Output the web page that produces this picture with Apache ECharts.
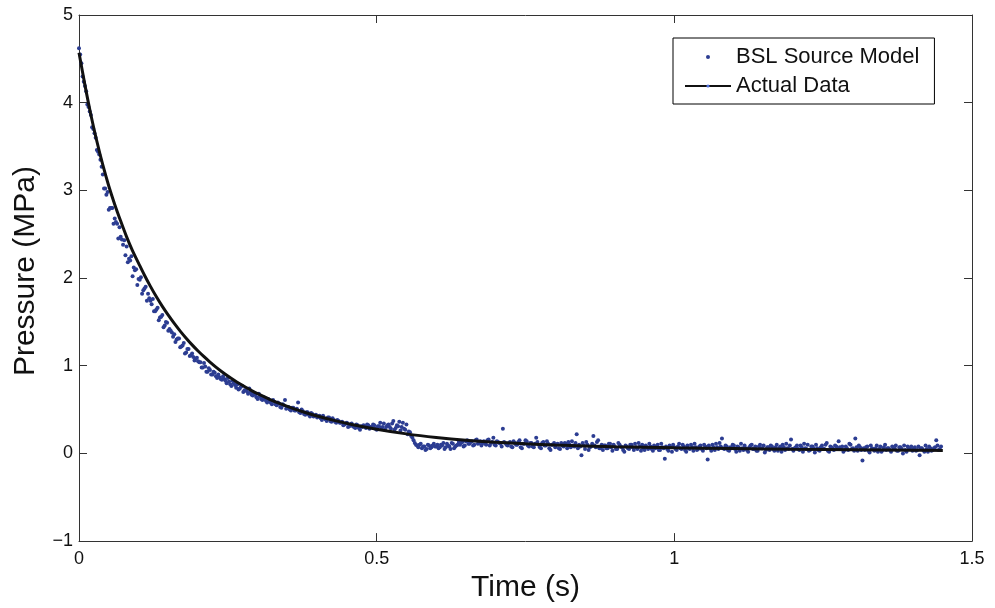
<!DOCTYPE html>
<html>
<head>
<meta charset="utf-8">
<script src="https://cdn.jsdelivr.net/npm/echarts@6/dist/echarts.min.js"></script>
<style>
html,body{margin:0;padding:0;background:#fff;}
#chart{width:995px;height:608px;}
</style>
</head>
<body>
<div id="chart"></div>
<script>
// ---- Data ----
const xAxisTitle = 'Time (s)';
const yAxisTitle = 'Pressure (MPa)';
const modelName = 'BSL Source Model';
const actualName = 'Actual Data';

// "Actual Data" curve: time (s) and pressure (MPa)
const actualTime = [0, 0.01, 0.02, 0.03, 0.04, 0.05, 0.06, 0.07, 0.08, 0.09, 0.10, 0.11, 0.12, 0.13, 0.14, 0.15, 0.16, 0.17, 0.18, 0.19, 0.20, 0.21, 0.22, 0.23, 0.24, 0.25, 0.26, 0.27, 0.28, 0.29, 0.30, 0.32, 0.34, 0.36, 0.38, 0.40, 0.43, 0.46, 0.50, 0.55, 0.60, 0.65, 0.70, 0.75, 0.80, 0.90, 1.00, 1.10, 1.20, 1.30, 1.40, 1.451];
const actualPressure = [4.57, 4.20, 3.86, 3.56, 3.29, 3.05, 2.84, 2.65, 2.47, 2.31, 2.17, 2.032, 1.905, 1.786, 1.677, 1.576, 1.482, 1.395, 1.314, 1.238, 1.168, 1.103, 1.042, 0.985, 0.932, 0.883, 0.837, 0.794, 0.754, 0.716, 0.681, 0.617, 0.561, 0.511, 0.467, 0.427, 0.374, 0.328, 0.276, 0.223, 0.182, 0.150, 0.127, 0.109, 0.096, 0.077, 0.064, 0.055, 0.048, 0.042, 0.036, 0.033];

// "BSL Source Model" samples: set A at t = i*modelStep, set B at t = modelStep/2 + i*modelStep
const modelStep = 0.004;
const modelPressureA = [
  4.62, 4.45, 4.24, 4.13, 3.95, 3.86, 3.70, 3.60, 3.44, 3.35,
  3.18, 3.02, 2.98, 2.80, 2.80, 2.68, 2.62, 2.58, 2.44, 2.43,
  2.36, 2.22, 2.25, 2.12, 2.10, 1.99, 2.01, 1.86, 1.90, 1.82,
  1.74, 1.76, 1.62, 1.66, 1.55, 1.58, 1.46, 1.49, 1.42, 1.38,
  1.36, 1.30, 1.31, 1.22, 1.26, 1.15, 1.19, 1.12, 1.10, 1.08,
  1.05, 1.04, 0.98, 0.99, 0.93, 0.95, 0.90, 0.92, 0.86, 0.87,
  0.84, 0.85, 0.80, 0.82, 0.77, 0.80, 0.75, 0.73, 0.76, 0.70,
  0.72, 0.68, 0.70, 0.66, 0.67, 0.62, 0.65, 0.61, 0.63, 0.58,
  0.60, 0.56, 0.59, 0.55, 0.57, 0.52, 0.55, 0.51, 0.53, 0.49,
  0.52, 0.49, 0.58, 0.46, 0.48, 0.44, 0.47, 0.42, 0.45, 0.43,
  0.41, 0.43, 0.38, 0.40, 0.37, 0.41, 0.36, 0.38, 0.35, 0.37,
  0.35, 0.32, 0.34, 0.30, 0.33, 0.31, 0.29, 0.32, 0.27, 0.30,
  0.31, 0.33, 0.28, 0.30, 0.32, 0.27, 0.31, 0.29, 0.34, 0.30,
  0.33, 0.28, 0.37, 0.29, 0.31, 0.26, 0.35, 0.27, 0.22, 0.24,
  0.18, 0.12, 0.09, 0.10, 0.06, 0.08, 0.05, 0.09, 0.07, 0.11,
  0.08, 0.06, 0.10, 0.12, 0.07, 0.09, 0.05, 0.11, 0.08, 0.10,
  0.10, 0.13, 0.09, 0.15, 0.11, 0.14, 0.10, 0.16, 0.12, 0.09,
  0.14, 0.10, 0.16, 0.12, 0.18, 0.09, 0.13, 0.11, 0.28, 0.12,
  0.09, 0.13, 0.07, 0.12, 0.10, 0.15, 0.06, 0.11, 0.14, 0.08,
  0.12, 0.07, 0.18, 0.10, 0.06, 0.13, 0.09, 0.11, 0.04, 0.10,
  0.07, 0.11, 0.05, 0.09, 0.12, 0.06, 0.10, 0.14, 0.08, 0.22,
  0.10, -0.02, 0.09, 0.13, 0.04, 0.08, 0.20, 0.07, 0.15, 0.06,
  0.04, 0.09, 0.06, 0.11, 0.03, 0.08, 0.05, 0.10, 0.07, 0.02,
  0.08, 0.05, 0.10, 0.04, 0.07, 0.12, 0.03, 0.06, 0.09, 0.05,
  0.08, 0.03, 0.06, 0.10, 0.04, 0.07, -0.06, 0.05, 0.09, 0.02,
  0.07, 0.04, 0.11, 0.05, 0.08, 0.02, 0.06, 0.10, 0.03, 0.07,
  0.05, 0.09, 0.03, 0.08, -0.07, 0.06, 0.10, 0.04, 0.07, 0.12,
  0.17, 0.05, 0.08, 0.03, 0.06, 0.09, 0.02, 0.07, 0.11, 0.04,
  0.06, 0.02, 0.09, 0.05, 0.08, 0.03, 0.10, 0.06, 0.01, 0.07,
  0.04, 0.08, 0.03, 0.10, 0.06, 0.02, 0.07, 0.11, 0.05, 0.16,
  0.03, 0.07, 0.05, 0.09, 0.02, 0.06, 0.10, 0.04, 0.08, 0.01,
  0.06, 0.03, 0.09, 0.05, 0.12, 0.02, 0.07, 0.04, 0.08, 0.14,
  0.05, 0.02, 0.08, 0.04, 0.10, 0.06, 0.17, 0.03, 0.07, -0.08,
  0.04, 0.08, 0.01, 0.06, 0.03, 0.09, 0.05, 0.02, 0.07, 0.04,
  0.06, 0.02, 0.05, 0.09, 0.03, 0.07, 0.00, 0.04, 0.08, 0.05,
  0.03, 0.07, 0.04, -0.02, 0.06, 0.02, 0.05, 0.08, 0.03, 0.06,
  0.15, 0.04, 0.08
];
const modelPressureB = [
  4.55, 4.30, 4.19, 3.98, 3.90, 3.72, 3.65, 3.46, 3.41, 3.27,
  3.02, 2.95, 2.78, 2.80, 2.62, 2.64, 2.45, 2.47, 2.38, 2.26,
  2.18, 2.20, 2.02, 2.09, 1.92, 1.98, 1.82, 1.88, 1.74, 1.77,
  1.70, 1.62, 1.64, 1.52, 1.56, 1.44, 1.50, 1.40, 1.40, 1.33,
  1.27, 1.31, 1.21, 1.23, 1.14, 1.19, 1.11, 1.14, 1.06, 1.09,
  1.04, 0.98, 1.03, 0.93, 0.97, 0.90, 0.93, 0.88, 0.90, 0.85,
  0.88, 0.83, 0.86, 0.79, 0.83, 0.78, 0.79, 0.74, 0.77, 0.72,
  0.71, 0.74, 0.67, 0.69, 0.64, 0.68, 0.62, 0.64, 0.60, 0.62,
  0.58, 0.61, 0.56, 0.58, 0.53, 0.56, 0.61, 0.52, 0.50, 0.52,
  0.49, 0.51, 0.47, 0.50, 0.45, 0.47, 0.44, 0.46, 0.42, 0.44,
  0.42, 0.40, 0.43, 0.39, 0.41, 0.37, 0.40, 0.36, 0.38, 0.35,
  0.36, 0.33, 0.35, 0.31, 0.34, 0.30, 0.33, 0.29, 0.31, 0.32,
  0.29, 0.32, 0.30, 0.33, 0.28, 0.31, 0.35, 0.30, 0.27, 0.32,
  0.30, 0.34, 0.27, 0.32, 0.36, 0.30, 0.28, 0.33, 0.25, 0.20,
  0.15, 0.10, 0.07, 0.11, 0.08, 0.04, 0.10, 0.06, 0.09, 0.08,
  0.10, 0.07, 0.09, 0.05, 0.11, 0.08, 0.12, 0.06, 0.09, 0.13,
  0.12, 0.08, 0.14, 0.11, 0.13, 0.09, 0.15, 0.11, 0.14, 0.12,
  0.11, 0.15, 0.09, 0.13, 0.10, 0.14, 0.12, 0.08, 0.13, 0.10,
  0.12, 0.08, 0.14, 0.10, 0.13, 0.07, 0.11, 0.15, 0.09, 0.12,
  0.08, 0.11, 0.13, 0.07, 0.12, 0.09, 0.14, 0.06, 0.10, 0.12,
  0.10, 0.06, 0.12, 0.08, 0.11, 0.13, 0.07, 0.09, 0.12, 0.06,
  0.08, 0.12, 0.05, 0.10, 0.07, 0.11, 0.09, 0.13, 0.06, 0.10,
  0.09, 0.06, 0.11, 0.07, 0.10, 0.05, 0.12, 0.08, 0.04, 0.09,
  0.06, 0.10, 0.07, 0.11, 0.05, 0.08, 0.10, 0.04, 0.07, 0.11,
  0.05, 0.09, 0.07, 0.04, 0.11, 0.06, 0.08, 0.03, 0.07, 0.10,
  0.05, 0.08, 0.06, 0.10, 0.04, 0.09, 0.05, 0.07, 0.11, 0.04,
  0.08, 0.05, 0.10, 0.06, 0.09, 0.03, 0.07, 0.11, 0.05, 0.08,
  0.06, 0.09, 0.04, 0.07, 0.10, 0.05, 0.08, 0.03, 0.06, 0.09,
  0.04, 0.07, 0.10, 0.05, 0.03, 0.08, 0.06, 0.09, 0.04, 0.07,
  0.09, 0.05, 0.07, 0.03, 0.08, 0.10, 0.04, 0.06, 0.09, 0.05,
  0.06, 0.09, 0.04, 0.07, 0.11, 0.05, 0.03, 0.08, 0.06, 0.10,
  0.04, 0.07, 0.05, 0.10, 0.03, 0.08, 0.06, 0.09, 0.05, 0.07,
  0.08, 0.04, 0.06, 0.11, 0.05, 0.03, 0.07, 0.09, 0.04, 0.06,
  0.07, 0.03, 0.09, 0.05, 0.06, 0.02, 0.08, 0.04, 0.10, 0.06,
  0.04, 0.08, 0.06, 0.03, 0.07, 0.05, 0.09, 0.02, 0.06, 0.08,
  0.05, 0.03, 0.08, 0.06, 0.04, 0.09, 0.02, 0.06, 0.04, 0.07,
  0.09, 0.05
];

// Axis ranges / ticks
const xMin = 0, xMax = 1.5, xInterval = 0.5;
const yMin = -1, yMax = 5, yInterval = 1;

// ---- Build chart ----
const FONT = 'Liberation Sans, Arial, Helvetica, sans-serif';
const modelData = modelPressureA.map((p, i) => [+(i * modelStep).toFixed(4), p])
  .concat(modelPressureB.map((p, i) => [+(modelStep / 2 + i * modelStep).toFixed(4), p]));
const actualData = actualTime.map((t, i) => [t, actualPressure[i]]);
const fmt = v => String(v).replace('-', '\u2212');

const axisLineStyle = { color: '#333', width: 1 };
const tickStyle = { show: true, inside: true, length: 8, lineStyle: { color: '#333', width: 1 } };

const chart = echarts.init(document.getElementById('chart'), null, { renderer: 'canvas' });
chart.setOption({
  animation: false,
  backgroundColor: '#fff',
  grid: { left: 79, right: 23, top: 15, bottom: 62, containLabel: false },
  legend: {
    orient: 'vertical',
    left: 673,
    top: 38,
    padding: [6, 15, 5, 11],
    itemGap: 3,
    itemWidth: 46,
    itemHeight: 4,
    borderColor: '#000',
    borderWidth: 1,
    backgroundColor: '#fff',
    textStyle: { fontFamily: FONT, fontSize: 22, color: '#111', lineHeight: 26 },
    itemStyle: { borderWidth: 0 },
    data: [
      { name: modelName, icon: 'circle' },
      { name: actualName }
    ]
  },
  xAxis: [{
    type: 'value', min: xMin, max: xMax, interval: xInterval,
    name: xAxisTitle, nameLocation: 'middle', nameGap: 26,
    nameTextStyle: { fontFamily: FONT, fontSize: 30, color: '#111' },
    axisLine: { show: true, onZero: false, lineStyle: axisLineStyle },
    axisTick: tickStyle,
    axisLabel: { fontFamily: FONT, fontSize: 18, color: '#111', margin: 9, formatter: fmt },
    splitLine: { show: false }
  }, {
    type: 'value', position: 'top', min: xMin, max: xMax, interval: xInterval,
    axisLine: { show: true, onZero: false, lineStyle: axisLineStyle },
    axisTick: tickStyle,
    axisLabel: { show: false },
    splitLine: { show: false }
  }],
  yAxis: [{
    type: 'value', min: yMin, max: yMax, interval: yInterval,
    name: yAxisTitle, nameLocation: 'middle', nameGap: 38,
    nameTextStyle: { fontFamily: FONT, fontSize: 30, color: '#111', padding: [0, 0, 0, 14] },
    axisLine: { show: true, onZero: false, lineStyle: axisLineStyle },
    axisTick: tickStyle,
    axisLabel: { fontFamily: FONT, fontSize: 18, color: '#111', margin: 6, formatter: fmt },
    splitLine: { show: false }
  }, {
    type: 'value', position: 'right', min: yMin, max: yMax, interval: yInterval,
    axisLine: { show: true, onZero: false, lineStyle: axisLineStyle },
    axisTick: tickStyle,
    axisLabel: { show: false },
    splitLine: { show: false }
  }],
  series: [{
    name: modelName,
    type: 'scatter',
    xAxisIndex: 0, yAxisIndex: 0,
    data: modelData,
    symbol: 'circle',
    symbolSize: 4,
    itemStyle: { color: '#2c3d92', opacity: 1 },
    z: 2
  }, {
    name: actualName,
    type: 'line',
    xAxisIndex: 0, yAxisIndex: 0,
    data: actualData,
    symbol: 'none',
    smooth: 0.3,
    lineStyle: { color: '#111', width: 3 },
    z: 3
  }]
});
</script>
</body>
</html>
